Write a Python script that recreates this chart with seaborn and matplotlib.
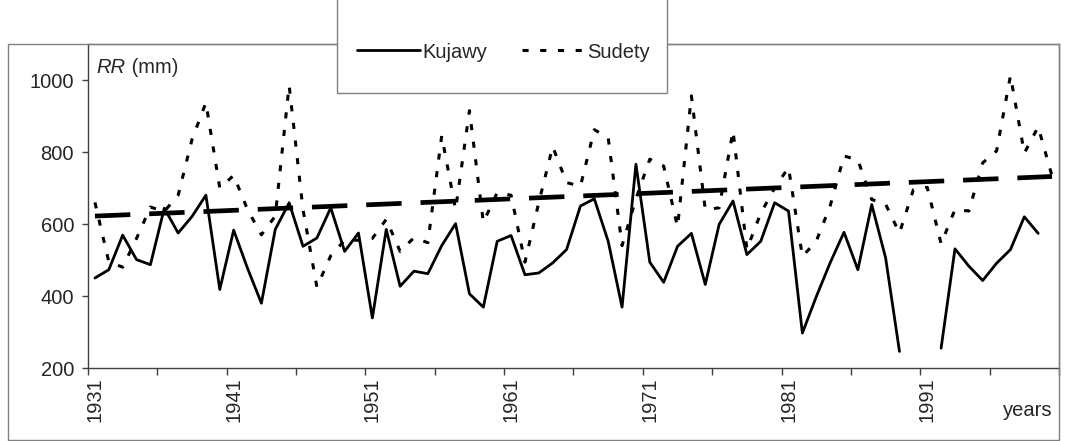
import numpy as np
import pandas as pd
import matplotlib
matplotlib.use("Agg")
import matplotlib.pyplot as plt
import seaborn as sns
from matplotlib.patches import Rectangle
from matplotlib.lines import Line2D

# ---------------- data ----------------
years = list(range(1931, 2001))
kujawy = [450, 473, 569, 501, 487, 644, 575, 621, 680, 418,
          583, 477, 380, 585, 659, 538, 561, 645, 524, 575,
          339, 585, 427, 469, 462, 540, 601, 406, 369, 552,
          568, 459, 464, 492, 529, 650, 670, 552, 369, 766,
          494, 438, 538, 574, 432, 599, 664, 515, 552, 659,
          636, 297, 398, 492, 577, 473, 654, 506, 246, np.nan,
          np.nan, 255, 531, 483, 443, 491, 529, 620, 574, np.nan]
sudety = [660, 495, 480, 560, 647, 635, 680, 835, 937, 700,
          735, 640, 570, 622, 985, 640, 425, 512, 555, 555,
          560, 613, 524, 562, 548, 845, 640, 915, 605, 687,
          680, 494, 660, 815, 715, 705, 862, 840, 540, 670,
          780, 761, 592, 956, 640, 645, 859, 530, 630, 700,
          757, 510, 552, 650, 789, 778, 668, 655, 575, 695,
          702, 545, 640, 636, 770, 803, 1012, 797, 870, 733]
trend_years = [1931, 2000]
trend_values = [622, 732]
x_label_years = [1931, 1941, 1951, 1961, 1971, 1981, 1991]
y_ticks = [200, 400, 600, 800, 1000]
series_names = ["Kujawy", "Sudety"]

# ---------------- figure ----------------
sns.set_theme(style="white")
plt.rcParams["font.family"] = ["Liberation Sans", "DejaVu Sans"]

W, H = 1067, 441
FS = 14.5
fig = plt.figure(figsize=(W / 100, H / 100), dpi=100)
fig.patch.set_facecolor("white")
ax = fig.add_axes([88 / W, (H - 368) / H, (1059 - 88) / W, (368 - 44) / H])

df_k = pd.DataFrame({"year": years, "rr": kujawy})
df_k["segment"] = df_k["rr"].isna().cumsum()
df_k = df_k.dropna()
df_s = pd.DataFrame({"year": years, "rr": sudety})
df_t = pd.DataFrame({"year": trend_years, "rr": trend_values})

k_style = dict(color="black", lw=2.0, linestyle="-")
s_style = dict(color="black", lw=2.2, linestyle=(0, (2.0, 3.8)))
t_style = dict(color="black", lw=3.4, linestyle=(0, (7.5, 4.0)))

sns.lineplot(data=df_k, x="year", y="rr", units="segment", estimator=None,
             ax=ax, legend=False, **k_style)
sns.lineplot(data=df_s, x="year", y="rr", estimator=None, ax=ax,
             legend=False, **s_style)
sns.lineplot(data=df_t, x="year", y="rr", estimator=None, ax=ax,
             legend=False, **t_style)

ax.set_xlim(1930.5, 2000.5)
ax.set_ylim(200, 1100)
ax.set_xlabel("")
ax.set_ylabel("")

ax.set_xticks(x_label_years)
ax.set_xticklabels([str(y) for y in x_label_years], rotation=90, fontsize=FS)
ax.set_xticks(np.arange(1930.5, 2001, 5), minor=True)
ax.tick_params(axis="x", which="major", bottom=True, length=0, pad=6.5)
ax.tick_params(axis="x", which="minor", bottom=True, length=5, width=1,
               color="#404040", direction="out")
ax.set_yticks(y_ticks)
ax.set_yticklabels([str(v) for v in y_ticks], fontsize=FS)
ax.tick_params(axis="y", which="major", left=True, length=4.5, width=1,
               color="#404040", direction="out", pad=5.5)

for side in ["left", "bottom"]:
    ax.spines[side].set_color("#404040")
    ax.spines[side].set_linewidth(1.0)
for side in ["top", "right"]:
    ax.spines[side].set_color("#808080")
    ax.spines[side].set_linewidth(1.0)

t1 = ax.text(0.009, 0.926, "RR", transform=ax.transAxes, fontstyle="italic",
             fontsize=FS, va="center", ha="left")
ax.annotate(" (mm)", xy=(1, 0), xycoords=t1, va="bottom", ha="left", fontsize=FS)

fig.text(1028 / W, 1 - 410 / H, "years", ha="center", va="center", fontsize=FS)

# outer chart border
fig.add_artist(Rectangle((8 / W, 1 / H), (1059 - 8) / W, (440 - 44) / H,
                         transform=fig.transFigure, fill=False,
                         edgecolor="#808080", lw=1.0, zorder=3))
# legend box
fig.add_artist(Rectangle((337 / W, (H - 93) / H), (667 - 337) / W, 110 / H,
                         transform=fig.transFigure, facecolor="white",
                         edgecolor="#808080", lw=1.0, zorder=4))
handles = [Line2D([0], [0], **k_style), Line2D([0], [0], **s_style)]
leg = fig.legend(handles=handles, labels=series_names, loc="center left",
                 bbox_to_anchor=(357 / W, 1 - 52 / H), ncol=2, frameon=False,
                 borderpad=0, borderaxespad=0, handlelength=63 / 20.1,
                 handletextpad=2 / 20.1, columnspacing=35 / 20.1, fontsize=FS)
leg.set_zorder(5)

fig.savefig("out.png", dpi=100, facecolor="white")
